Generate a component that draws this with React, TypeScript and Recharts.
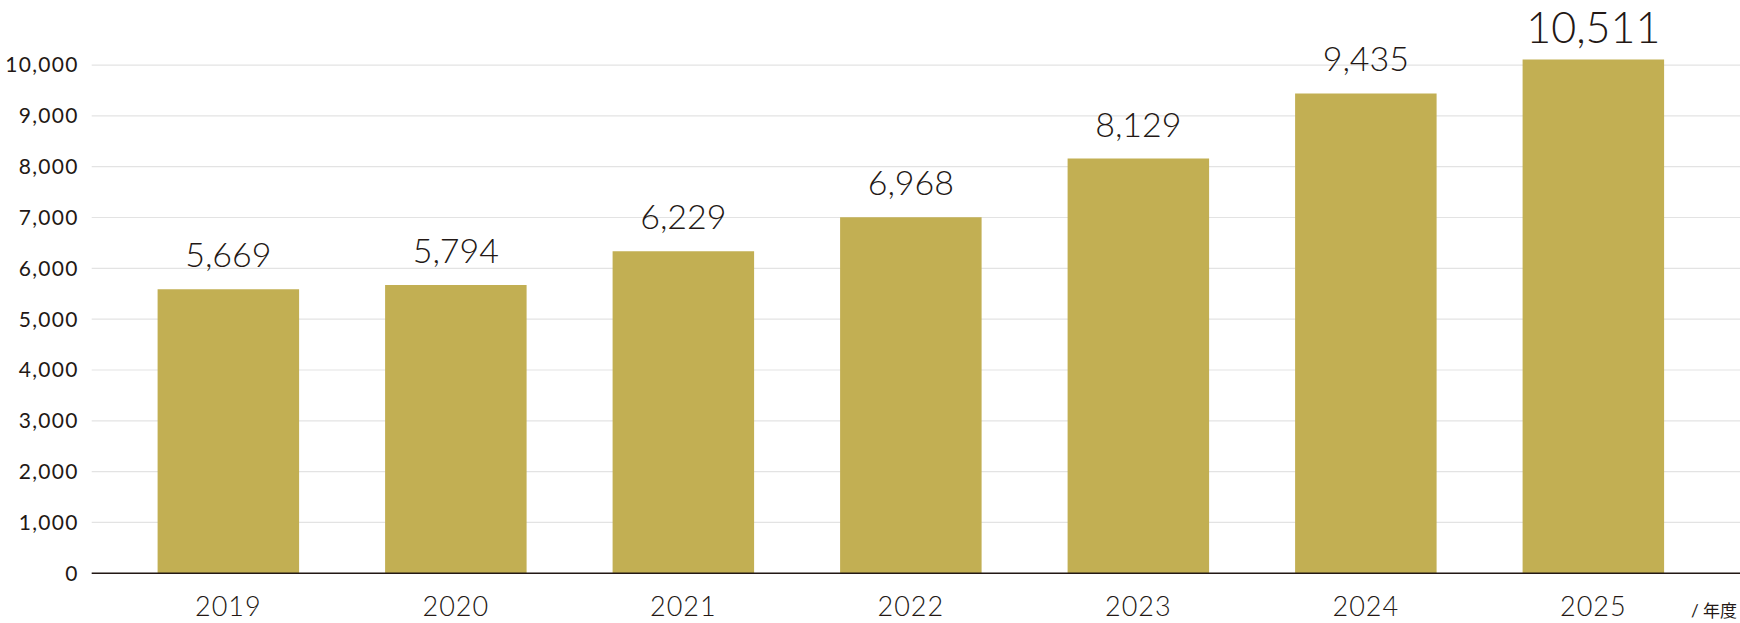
import { BarChart, Bar, XAxis, YAxis, CartesianGrid, LabelList, Label } from 'recharts';

// Fiscal years on the x-axis
const years = ['2019', '2020', '2021', '2022', '2023', '2024', '2025'];
// Bar heights as drawn in the source picture
const barHeights = [5590, 5670, 6335, 7005, 8160, 9440, 10110];
// Figures printed above the bars
const valueLabels = ['5,669', '5,794', '6,229', '6,968', '8,129', '9,435', '10,511'];
const yTicks = [0, 1000, 2000, 3000, 4000, 5000, 6000, 7000, 8000, 9000, 10000];
const unitLabel = '/ 年度';

const FONT = 'Lato, "Noto Sans", "Noto Sans CJK JP", sans-serif';
const INK = '#231815';
const GOLD = '#C2AF53';

const data = years.map((year, i) => ({ year, value: barHeights[i], label: valueLabels[i] }));

// the latest year is printed larger; it is pulled a little closer to its bar
// so that it stays inside the top edge
function renderValueLabel(props: any) {
  const { x, y, width, index } = props;
  const isLast = index === data.length - 1;
  return (
    <text
      x={Number(x) + Number(width) / 2}
      y={Number(y) - (isLast ? 16 : 22)}
      textAnchor="middle"
      fill={INK}
      fontFamily={FONT}
      fontWeight={300}
      fontSize={isLast ? 43 : 34}
    >
      {valueLabels[index]}
    </text>
  );
}

// "/ 年度" sits at the right end of the x-axis, next to the last year
function renderUnit(props: any) {
  const vb = props.viewBox;
  return (
    <text
      x={vb.x + vb.width - 3}
      y={vb.y + vb.height - 6}
      textAnchor="end"
      fill={INK}
      fontFamily={FONT}
      fontSize={17}
    >
      {unitLabel}
    </text>
  );
}

export default function App() {
  return (
    <div style={{ position: 'absolute', left: 0, top: 0, width: 1740, height: 623, background: '#fff' }}>
      <BarChart
        width={1740}
        height={623}
        data={data}
        margin={{ top: 14.2, right: 0, bottom: 0, left: 0 }}
        barSize={141.5}
      >
        <CartesianGrid stroke="#e3e3e3" strokeWidth={1.2} vertical={false} horizontalValues={yTicks} />
        <XAxis
          dataKey="year"
          height={49.7}
          padding={{ left: 22.9, right: 32.9 }}
          axisLine={{ stroke: INK, strokeWidth: 1.5 }}
          tickLine={false}
          tickSize={0}
          tickMargin={24}
          tick={{ fontSize: 27, fill: INK, fontFamily: FONT, fontWeight: 300, letterSpacing: 1 }}
        >
          <Label content={renderUnit} />
        </XAxis>
        <YAxis
          type="number"
          domain={[0, 11000]}
          ticks={yTicks}
          width={91.7}
          axisLine={false}
          tickLine={false}
          tickSize={0}
          tickMargin={13}
          tickFormatter={(v: number) => v.toLocaleString('en-US')}
          tick={{ fontSize: 21, fill: INK, fontFamily: FONT, fontWeight: 400, letterSpacing: 1.3 }}
        />
        <Bar dataKey="value" fill={GOLD} isAnimationActive={false}>
          <LabelList dataKey="label" content={renderValueLabel} />
        </Bar>
      </BarChart>
    </div>
  );
}
